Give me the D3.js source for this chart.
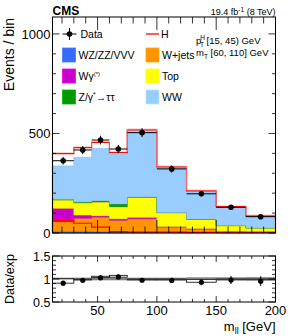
<!DOCTYPE html>
<html><head><meta charset="utf-8">
<script src="https://cdn.jsdelivr.net/npm/d3@7"></script>
<style>body{margin:0;background:#fff}svg{display:block;font-family:"Liberation Sans",Arial,sans-serif}</style>
</head><body><svg id="c" width="291" height="336"></svg>
<script>
const binEdges = [12, 30, 45, 60, 75, 100, 125, 150, 175, 200];
const wzzzVVV  = [9, 9, 8, 6, 5, 4, 3, 2, 2];
const wJets    = [48, 65, 72, 58, 66, 26, 17, 6, 4];
const wGamma   = [67, 16, 7, 7, 8, 3, 2, 1, 1];
const topQ     = [42, 62, 69, 61, 100, 69, 47, 28, 18];
const zTauTau  = [3, 4, 6, 14, 2, 1, 1, 0.5, 0.5];
const wwBkg    = [168, 224, 263, 251, 333, 225, 139, 91.5, 57.5];
const higgs    = [62, 49, 30, 7, 4, 4, 3, 3, 3];
const dataObs  = [363, 417, 467, 422, 504, 322, 197, 129, 82];
const boxLo    = [0.91, 0.98, 1.03, 1.04, 0.98, 0.98, 0.93, 0.99, 0.99];
const boxHi    = [1.01, 1.00, 1.06, 1.08, 1.00, 1.00, 0.99, 1.00, 1.00];
const bandErr  = [0.03, 0.03, 0.03, 0.03, 0.03, 0.03, 0.04, 0.04, 0.045];
const xTicks   = [50, 100, 150, 200];
const yTicks   = [0, 500, 1000];
const rTicks   = [0.5, 1, 1.5];

const svg = d3.select("#c");
const L = 52.5, R = 275.5, T = 17, B = 233, RT = 256, RB = 302;
const x = d3.scaleLinear().domain([12, 200]).range([L, R]);
const y = d3.scaleLinear().domain([0, 1085]).range([B, T]);
const yr = d3.scaleLinear().domain([0.5, 1.5]).range([RB, RT]);

const comps = [
  {name: "WZ/ZZ/VVV", vals: wzzzVVV, color: "#3a6bff"},
  {name: "W+jets", vals: wJets, color: "#ff9400"},
  {name: "Wγ(*)", vals: wGamma, color: "#cc00cc"},
  {name: "Top", vals: topQ, color: "#ffff00"},
  {name: "Z/γ*→ττ", vals: zTauTau, color: "#009a00"},
  {name: "WW", vals: wwBkg, color: "#99ccff"}
];
const n = dataObs.length;
let cum = new Array(n).fill(0);
function stepPath(lo, hi, ys) {
  let p = "";
  for (let i = 0; i < n; i++) {
    p += (i === 0 ? "M" : "L") + x(binEdges[i]) + "," + ys(hi[i]) + "L" + x(binEdges[i+1]) + "," + ys(hi[i]);
  }
  for (let i = n - 1; i >= 0; i--) {
    p += "L" + x(binEdges[i+1]) + "," + ys(lo[i]) + "L" + x(binEdges[i]) + "," + ys(lo[i]);
  }
  return p + "Z";
}
function stepLine(vals, ys) {
  let p = "M" + x(binEdges[0]) + "," + ys(0);
  for (let i = 0; i < n; i++) p += "L" + x(binEdges[i]) + "," + ys(vals[i]) + "L" + x(binEdges[i+1]) + "," + ys(vals[i]);
  p += "L" + x(binEdges[n]) + "," + ys(0);
  return p;
}
comps.forEach(c => {
  const lo = cum.slice();
  const hi = cum.map((v, i) => v + c.vals[i]);
  svg.append("path").attr("d", stepPath(lo, hi, y)).attr("fill", c.color)
    .attr("stroke", d3.color(c.color).darker(0.3)).attr("stroke-width", 0.6);
  cum = hi;
});
const totalBkg = cum.slice();
const totalAll = totalBkg.map((v, i) => v + higgs[i]);
// stacked H outline
svg.append("path").attr("d", stepLine(totalAll, y)).attr("fill", "none").attr("stroke", "#ff0000").attr("stroke-width", 1.2);
svg.append("path").attr("d", stepLine(totalAll, y)).attr("fill", "none").attr("stroke", "#ffb0b0").attr("stroke-width", 0.6).attr("transform", "translate(0,-1)");
// H alone
svg.append("path").attr("d", stepLine(higgs, y)).attr("fill", "none").attr("stroke", "#ff0000").attr("stroke-width", 1.2);

// data
const dg = svg.append("g");
for (let i = 0; i < n; i++) {
  const cx = x((binEdges[i] + binEdges[i+1]) / 2), e = Math.sqrt(dataObs[i]);
  dg.append("line").attr("x1", x(binEdges[i])).attr("x2", x(binEdges[i+1])).attr("y1", y(dataObs[i])).attr("y2", y(dataObs[i])).attr("stroke", "#000").attr("stroke-width", 1);
  dg.append("line").attr("x1", cx).attr("x2", cx).attr("y1", y(dataObs[i] - e)).attr("y2", y(dataObs[i] + e)).attr("stroke", "#000").attr("stroke-width", 1);
  dg.append("circle").attr("cx", cx).attr("cy", y(dataObs[i])).attr("r", 2.8).attr("fill", "#000");
}

// frames and ticks
function frame(top, bot, ys, major, minorStep, minorDom) {
  svg.append("rect").attr("x", L).attr("y", top).attr("width", R - L).attr("height", bot - top).attr("fill", "none").attr("stroke", "#000").attr("stroke-width", 1);
  const tg = svg.append("g").attr("stroke", "#000").attr("stroke-width", 0.8);
  for (let v = minorDom[0]; v <= minorDom[1] + 1e-9; v += minorStep) {
    const isMaj = major.some(m => Math.abs(m - v) < 1e-6);
    const len = isMaj ? 7 : 3.5;
    tg.append("line").attr("x1", L).attr("x2", L + len).attr("y1", ys(v)).attr("y2", ys(v));
    tg.append("line").attr("x1", R).attr("x2", R - len).attr("y1", ys(v)).attr("y2", ys(v));
  }
  const h = bot - top;
  for (let v = 20; v <= 200; v += 10) {
    const isMaj = xTicks.includes(v);
    const len = (isMaj ? 0.06 : 0.03) * (h > 100 ? 216 : 100);
    tg.append("line").attr("x1", x(v)).attr("x2", x(v)).attr("y1", bot).attr("y2", bot - len);
    tg.append("line").attr("x1", x(v)).attr("x2", x(v)).attr("y1", top).attr("y2", top + len);
  }
}
frame(T, B, y, yTicks, 100, [0, 1000]);

// ratio panel
const rg = svg.append("g");
for (let i = 0; i < n; i++) {
  rg.append("rect").attr("x", x(binEdges[i])).attr("width", x(binEdges[i+1]) - x(binEdges[i]))
    .attr("y", yr(1 + bandErr[i])).attr("height", yr(1 - bandErr[i]) - yr(1 + bandErr[i])).attr("fill", "#9a9a9a");
}
for (let i = 0; i < n; i++) {
  rg.append("rect").attr("x", x(binEdges[i])).attr("width", x(binEdges[i+1]) - x(binEdges[i]))
    .attr("y", yr(boxHi[i])).attr("height", Math.max(0.5, yr(boxLo[i]) - yr(boxHi[i]))).attr("fill", "#fff").attr("stroke", "#000").attr("stroke-width", 0.8);
}
rg.append("line").attr("x1", L).attr("x2", R).attr("y1", yr(1)).attr("y2", yr(1)).attr("stroke", "#555").attr("stroke-width", 0.8);
for (let i = 0; i < n; i++) {
  const cx = x((binEdges[i] + binEdges[i+1]) / 2);
  const r = dataObs[i] / totalAll[i], e = Math.sqrt(dataObs[i]) / totalAll[i];
  rg.append("line").attr("x1", cx).attr("x2", cx).attr("y1", yr(r - e)).attr("y2", yr(r + e)).attr("stroke", "#000").attr("stroke-width", 1);
  rg.append("circle").attr("cx", cx).attr("cy", yr(r)).attr("r", 2.6).attr("fill", "#000");
}
frame(RT, RB, yr, rTicks, 0.1, [0.5, 1.5]);

// tick labels
const lab = svg.append("g").attr("font-size", 13).attr("fill", "#000");
yTicks.forEach(v => lab.append("text").attr("x", L - 2).attr("y", y(v)).attr("dy", "0.36em").attr("text-anchor", "end").text(v));
rTicks.forEach(v => lab.append("text").attr("x", L - 2).attr("y", yr(v)).attr("dy", "0.36em").attr("text-anchor", "end").attr("font-size", 12.5).text(v));
xTicks.forEach(v => lab.append("text").attr("x", Math.min(x(v), R)).attr("y", 315).attr("text-anchor", "middle").attr("font-size", 13).text(v));

// axis titles
svg.append("text").attr("transform", "translate(14,18) rotate(-90)").attr("text-anchor", "end").attr("font-size", 14).text("Events / bin");
svg.append("text").attr("transform", "translate(14,279) rotate(-90)").attr("text-anchor", "middle").attr("font-size", 12.5).text("Data/exp");
const xt = svg.append("text").attr("x", R).attr("y", 331).attr("text-anchor", "end").attr("font-size", 13);
xt.append("tspan").text("m");
xt.append("tspan").attr("font-size", 9).attr("dy", 3).text("ll");
xt.append("tspan").attr("dy", -3).text(" [GeV]");

// header
svg.append("text").attr("x", L).attr("y", 15).attr("font-size", 12).attr("font-weight", "bold").text("CMS");
const lum = svg.append("text").attr("x", R).attr("y", 15).attr("text-anchor", "end").attr("font-size", 9);
lum.append("tspan").text("19.4 fb");
lum.append("tspan").attr("font-size", 6.5).attr("dy", -3).text("-1");
lum.append("tspan").attr("dy", 3).text(" (8 TeV)");

// legend
const lg = svg.append("g").attr("font-size", 10.5);
const rowY = [34, 55, 76, 97];
const lx1 = 62.5, lx2 = 146;
// Data
lg.append("line").attr("x1", lx1).attr("x2", lx1 + 14).attr("y1", rowY[0]).attr("y2", rowY[0]).attr("stroke", "#000");
lg.append("line").attr("x1", lx1 + 7).attr("x2", lx1 + 7).attr("y1", rowY[0] - 6).attr("y2", rowY[0] + 6).attr("stroke", "#000");
lg.append("circle").attr("cx", lx1 + 7).attr("cy", rowY[0]).attr("r", 2.8).attr("fill", "#000");
lg.append("text").attr("x", lx1 + 18).attr("y", rowY[0]).attr("dy", "0.36em").text("Data");
lg.append("line").attr("x1", lx2).attr("x2", lx2 + 13).attr("y1", rowY[0]).attr("y2", rowY[0]).attr("stroke", "#ff0000").attr("stroke-width", 1.3);
lg.append("text").attr("x", lx2 + 15).attr("y", rowY[0]).attr("dy", "0.36em").text("H");
const legPos = [[lx1, 1, 0], [lx2, 1, 1], [lx1, 2, 2], [lx2, 2, 3], [lx1, 3, 4], [lx2, 3, 5]];
legPos.forEach(([lx, r, ci]) => {
  const c = comps[ci];
  lg.append("rect").attr("x", lx).attr("y", rowY[r] - 7).attr("width", 13).attr("height", 14).attr("fill", c.color).attr("stroke", d3.color(c.color).brighter(0.4)).attr("stroke-width", 0.8);
});
function legText(lx, r, parts) {
  const t = lg.append("text").attr("x", lx + 16).attr("y", rowY[r]).attr("dy", "0.36em");
  parts.forEach(p => { const s = t.append("tspan").text(p[0]); if (p[1]) s.attr("font-size", p[1]); if (p[2]) s.attr("dy", p[2]); });
}
legText(lx1, 1, [["WZ/ZZ/VVV"]]);
legText(lx2, 1, [["W+jets"]]);
legText(lx1, 2, [["Wγ"], ["(*)", 6, -4]]);
legText(lx2, 2, [["Top"]]);
legText(lx1, 3, [["Z/γ"], ["*", 7, -4], ["→ττ", null, 4]]);
legText(lx2, 3, [["WW"]]);

// kinematic text
const kt = svg.append("g").attr("font-size", 9.5);
const k1 = kt.append("text").attr("x", 196).attr("y", 44);
k1.append("tspan").text("p");
k1.append("tspan").attr("font-size", 6.5).attr("dy", -4).attr("dx", -1).text("H");
k1.append("tspan").attr("font-size", 6.5).attr("dy", 7).attr("dx", -5).text("T");
k1.append("tspan").attr("dy", -3).text(" [15, 45) GeV");
const k2 = kt.append("text").attr("x", 196).attr("y", 56);
k2.append("tspan").text("m");
k2.append("tspan").attr("font-size", 6.5).attr("dy", 3).text("T");
k2.append("tspan").attr("dy", -3).text(" [60, 110] GeV");
</script></body></html>
